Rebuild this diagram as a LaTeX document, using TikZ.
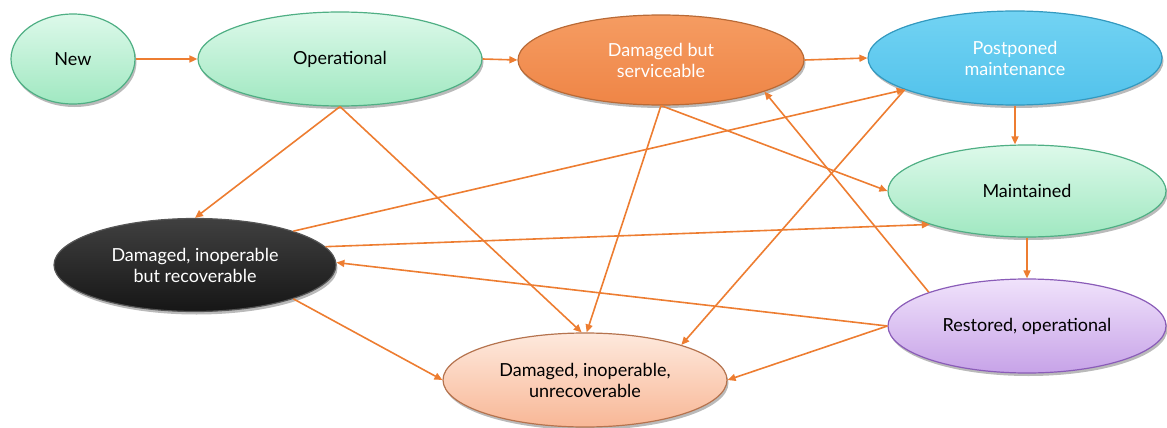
\documentclass[tikz,border=0pt]{standalone}
\usepackage{fontspec}
\setmainfont{Lato}
\usetikzlibrary{shapes.geometric,arrows.meta,shadows}
\definecolor{arrc}{HTML}{ED7D31}
\definecolor{gTop}{HTML}{DDF9EA}
\definecolor{gBot}{HTML}{A0E8C1}
\definecolor{gDraw}{HTML}{4FAF84}
\definecolor{oTop}{HTML}{F59C62}
\definecolor{oBot}{HTML}{EF8546}
\definecolor{oDraw}{HTML}{B96A36}
\definecolor{bTop}{HTML}{72D3F3}
\definecolor{bBot}{HTML}{52C2EB}
\definecolor{bDraw}{HTML}{3399BF}
\definecolor{kTop}{HTML}{404040}
\definecolor{kBot}{HTML}{161616}
\definecolor{kDraw}{HTML}{555555}
\definecolor{pTop}{HTML}{F0E2FB}
\definecolor{pBot}{HTML}{C7A3E8}
\definecolor{pDraw}{HTML}{8A5CB8}
\definecolor{rTop}{HTML}{FEE9DD}
\definecolor{rBot}{HTML}{F8B796}
\definecolor{rDraw}{HTML}{B5734E}
\tikzset{
  ell/.style={ellipse, inner sep=0pt, align=center, line width=1.2pt,
    font=\fontsize{18}{21}\selectfont,
    drop shadow={shadow xshift=1.5pt, shadow yshift=-3pt, opacity=0.45, fill=black!60}},
  greenell/.style={ell, top color=gTop, bottom color=gBot, draw=gDraw, text=black},
  orangeell/.style={ell, top color=oTop, bottom color=oBot, draw=oDraw, text=white},
  blueell/.style={ell, top color=bTop, bottom color=bBot, draw=bDraw, text=white},
  blackell/.style={ell, top color=kTop, bottom color=kBot, draw=kDraw, text=white},
  purpleell/.style={ell, top color=pTop, bottom color=pBot, draw=pDraw, text=black},
  peachell/.style={ell, top color=rTop, bottom color=rBot, draw=rDraw, text=black},
  arr/.style={draw=arrc, line width=1.6pt, -{Triangle[length=8pt,width=7pt]}}
}
\begin{document}
\begin{tikzpicture}[x=1pt,y=-1pt]
\useasboundingbox (0,0) rectangle (1167,428);
\node[greenell, minimum width=124pt, minimum height=90pt] (new) at (73,59) {New};
\node[greenell, minimum width=284pt, minimum height=94pt] (op) at (340,59) {Operational};
\node[orangeell, minimum width=286pt, minimum height=90pt] (dbs) at (661,60) {Damaged but\\serviceable};
\node[blueell, minimum width=294pt, minimum height=94pt] (pm) at (1015,58) {Postponed\\maintenance};
\node[greenell, minimum width=278pt, minimum height=92pt] (mt) at (1027,191) {Maintained};
\node[blackell, minimum width=282pt, minimum height=93pt] (dibr) at (195,265) {Damaged, inoperable\\but recoverable};
\node[purpleell, minimum width=278pt, minimum height=94pt] (ro) at (1027,326) {Restored, operational};
\node[peachell, minimum width=284pt, minimum height=94pt] (diu) at (585,380) {Damaged, inoperable,\\unrecoverable};

\draw[arr] (new.east) -- (op.west);
\draw[arr] (op.east) -- (dbs.west);
\draw[arr] (dbs.east) -- (pm.west);
\draw[arr] (pm.south) -- (pm.south |- mt.north);
\draw[arr] (mt.south) -- (ro.north);
\draw[arr] (op.south) -- (dibr.north);
\draw[arr] (op.south) -- (diu.94);
\draw[arr] (dbs.south) -- (diu.88);
\draw[arr] (dbs.south) -- (mt.west);
\draw[arr] (dibr.19) -- (pm.196);
\draw[arr] (dibr.8) -- (mt.199);
\draw[arr] (ro.west) -- (dibr.1);
\draw[arr] (ro.161) -- (dbs.-17);
\draw[arr] (ro.west) -- (diu.east);
\draw[arr] (dibr.-19) -- (diu.west);
\draw[arr] (pm.196) -- (diu.20);
\end{tikzpicture}
\end{document}
